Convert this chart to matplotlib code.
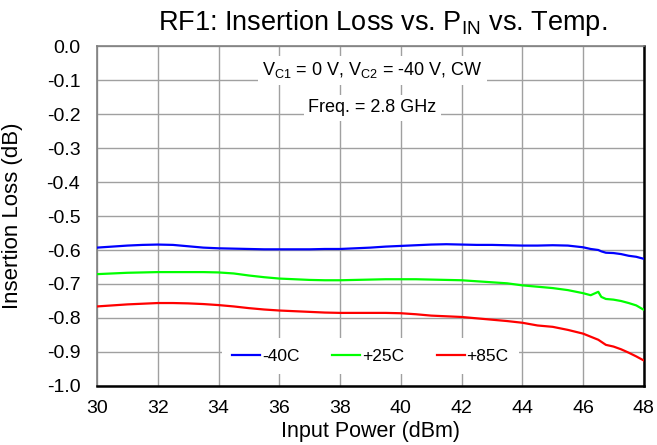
import matplotlib
matplotlib.use("Agg")
import matplotlib.pyplot as plt

plt.rcParams['font.family'] = ['Liberation Sans', 'DejaVu Sans']
plt.rcParams['mathtext.fontset'] = 'custom'
plt.rcParams['mathtext.rm'] = 'Liberation Sans'
plt.rcParams['mathtext.it'] = 'Liberation Sans'
plt.rcParams['mathtext.default'] = 'regular'
plt.rcParams['axes.unicode_minus'] = False

pin = [30, 30.5, 31, 31.5, 32, 32.5, 33, 33.5, 34, 34.5, 35, 35.5, 36, 36.5, 37, 37.5,
       38, 38.5, 39, 39.5, 40, 40.5, 41, 41.5, 42, 42.5, 43, 43.5, 44, 44.5, 45, 45.5,
       46, 46.25, 46.5, 46.6, 46.75, 47, 47.25, 47.5, 47.75, 48]

il_m40 = [-0.593, -0.590, -0.587, -0.585, -0.584, -0.585, -0.589, -0.593, -0.595, -0.596,
          -0.597, -0.598, -0.598, -0.598, -0.598, -0.597, -0.597, -0.595, -0.593, -0.590,
          -0.588, -0.586, -0.584, -0.583, -0.584, -0.585, -0.585, -0.586, -0.587, -0.587,
          -0.586, -0.587, -0.592, -0.597, -0.600, -0.604, -0.608, -0.609, -0.612, -0.617,
          -0.620, -0.626]

il_p25 = [-0.671, -0.669, -0.667, -0.666, -0.665, -0.665, -0.665, -0.665, -0.666, -0.669,
          -0.675, -0.680, -0.684, -0.686, -0.688, -0.689, -0.689, -0.688, -0.687, -0.686,
          -0.686, -0.686, -0.687, -0.688, -0.689, -0.692, -0.695, -0.698, -0.704, -0.708,
          -0.712, -0.718, -0.727, -0.733, -0.723, -0.738, -0.744, -0.746, -0.750, -0.756,
          -0.763, -0.776]

il_p85 = [-0.766, -0.763, -0.760, -0.758, -0.756, -0.756, -0.757, -0.759, -0.762, -0.766,
          -0.771, -0.775, -0.778, -0.780, -0.782, -0.784, -0.785, -0.785, -0.785, -0.785,
          -0.786, -0.789, -0.793, -0.795, -0.797, -0.801, -0.805, -0.809, -0.814, -0.822,
          -0.826, -0.835, -0.846, -0.855, -0.864, -0.870, -0.879, -0.884, -0.892, -0.902,
          -0.913, -0.925]

labels = ['-40C', '+25C', '+85C']
colors = ['#0000ff', '#00ff00', '#ff0000']

xticks = [30, 32, 34, 36, 38, 40, 42, 44, 46, 48]
yticks = [0.0, -0.1, -0.2, -0.3, -0.4, -0.5, -0.6, -0.7, -0.8, -0.9, -1.0]

fig = plt.figure(figsize=(6.57, 4.45), dpi=100)
ax = fig.add_axes([0.1476, 0.1326, 0.8324, 0.764])

for y, lab, c in zip([il_m40, il_p25, il_p85], labels, colors):
    ax.plot(pin, y, color=c, lw=1.6, label=lab, zorder=3)

ax.set_xlim(30, 48)
ax.set_ylim(-1.0, 0.0)
ax.set_xticks(xticks)
ax.set_yticks(yticks)
ax.set_yticklabels(['%.1f' % v for v in yticks])
ax.grid(True, color='#a0a0a0', lw=1.0, zorder=0)
ax.tick_params(length=0, labelsize=14)
ax.tick_params(axis='y', pad=12)
ax.tick_params(axis='x', pad=10)

for s in ['left', 'top']:
    ax.spines[s].set_color('#808080')
    ax.spines[s].set_linewidth(1.2)
for s in ['right', 'bottom']:
    ax.spines[s].set_color('black')
    ax.spines[s].set_linewidth(1.8)

ax.set_xlabel('Input Power (dBm)', fontsize=15.5, labelpad=3)
ax.yaxis.set_label_coords(-0.135, 0.5)
ax.set_ylabel('Insertion Loss (dB)', fontsize=16)
fig.text(0.583, 0.948, 'RF1: Insertion Loss vs. P$_{IN}$ vs. Temp.', fontsize=19.5,
         ha='center', va='center')

bb = dict(facecolor='white', edgecolor='none', pad=3)
ax.text(0.5035, 0.928, 'V$_{C1}$ = 0 V, V$_{C2}$ = -40 V, CW', transform=ax.transAxes,
        ha='center', va='center', fontsize=13, bbox=bb, zorder=4)
ax.text(0.5035, 0.818, 'Freq. = 2.8 GHz', transform=ax.transAxes,
        ha='center', va='center', fontsize=13, bbox=bb, zorder=4)

leg = ax.legend(loc='center', bbox_to_anchor=(0.5, 0.088), ncol=3, frameon=True,
                fontsize=12.5, handlelength=1.6, handletextpad=0.1, columnspacing=1.9,
                borderpad=0.6)
leg.get_frame().set_edgecolor('none')
leg.get_frame().set_facecolor('white')
leg.get_frame().set_alpha(1.0)
leg.get_frame().set_boxstyle('square', pad=0)
leg.set_zorder(5)

fig.savefig('out.png', dpi=100)
